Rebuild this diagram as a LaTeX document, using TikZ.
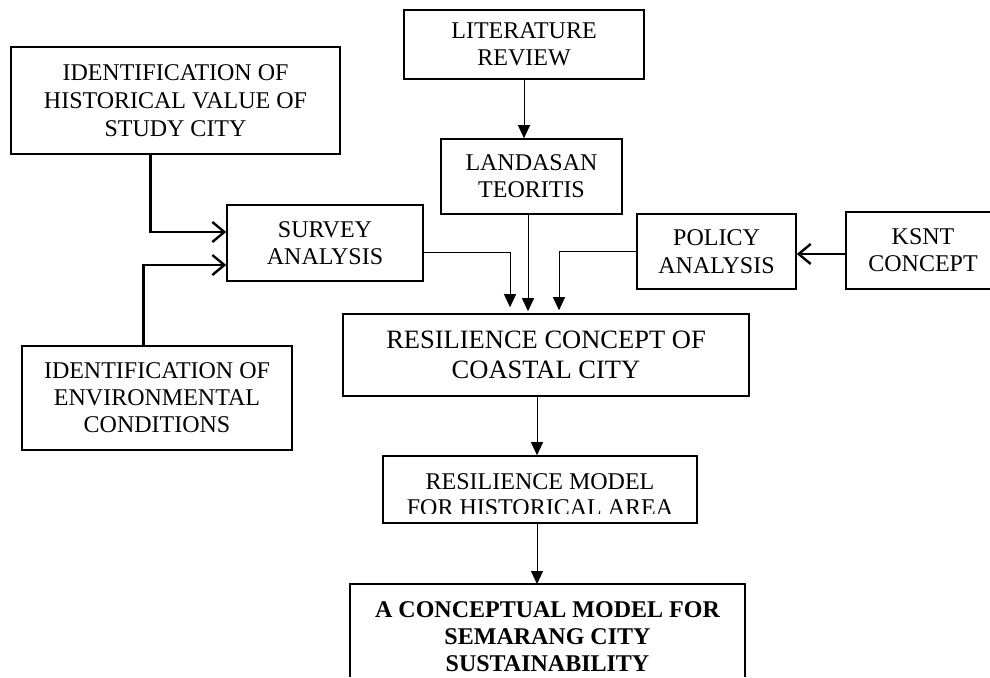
\documentclass[tikz,border=0pt]{standalone}
\usepackage{fontspec}
\setmainfont{Liberation Serif}
\usetikzlibrary{arrows.meta,calc}
\begin{document}
\begin{tikzpicture}[x=1pt,y=-1pt,
  box/.style={draw,line width=1.6pt,align=center,inner sep=0pt,font=\fontsize{24}{28}\selectfont},
  thin/.style={draw,line width=0.9pt,-{Triangle[length=13pt,width=12pt]}},
  thickarr/.style={draw,line width=2.6pt,-{Straight Barb[length=12pt,width=20pt,line width=2.4pt]}}]
\useasboundingbox[fill=white] (0,0) rectangle (990,677);
% nodes
\node[box,minimum width=329pt,minimum height=107pt] (hist) at (175.5,100.5) {IDENTIFICATION OF\\HISTORICAL VALUE OF\\STUDY CITY};
\node[box,minimum width=270pt,minimum height=104pt,font=\fontsize{24}{27}\selectfont] (env) at (157,398) {IDENTIFICATION OF\\ENVIRONMENTAL\\CONDITIONS};
\node[box,minimum width=196pt,minimum height=76pt,font=\fontsize{24}{27}\selectfont] (survey) at (325,243) {SURVEY\\ANALYSIS};
\node[box,minimum width=240pt,minimum height=69pt,font=\fontsize{24}{27}\selectfont] (lit) at (524,44.5) {LITERATURE\\REVIEW};
\node[box,minimum width=181pt,minimum height=75pt,font=\fontsize{24}{27}\selectfont] (land) at (531.5,176.5) {LANDASAN\\TEORITIS};
\node[box,minimum width=159pt,minimum height=75pt,font=\fontsize{24}{28}\selectfont] (policy) at (716.5,251.5) {POLICY\\ANALYSIS};
\node[box,minimum width=154pt,minimum height=77pt,font=\fontsize{24}{27}\selectfont] (ksnt) at (923,250.5) {KSNT\\CONCEPT};
\node[box,minimum width=406pt,minimum height=82pt,font=\fontsize{26.5}{30}\selectfont] (rcc) at (546,355) {RESILIENCE CONCEPT OF\\COASTAL CITY};
\node[box,minimum width=314pt,minimum height=67pt] (rm) at (540,489.5) {};
\begin{scope}
  \clip (rm.north west) rectangle ([yshift=10pt]rm.south east);
  \node[align=center,inner sep=0pt,font=\fontsize{24}{26}\selectfont] (rmtext) at ([yshift=-5.5pt]rm.center) {RESILIENCE MODEL\\FOR HISTORICAL AREA};
\end{scope}
\node[align=center,inner sep=0pt,minimum width=395pt,font=\bfseries\fontsize{24}{27}\selectfont] (final) at (547.5,637) {A CONCEPTUAL MODEL FOR\\SEMARANG CITY\\SUSTAINABILITY};
\coordinate (ftop) at (547.5,584);
\coordinate (fbot) at (547.5,677);
\draw[line width=1.6pt] (final.west |- fbot) -- (final.west |- ftop) -- (final.east |- ftop) -- (final.east |- fbot);
% coordinates
\coordinate (c1) at ([xshift=-36pt]rcc.north);
\coordinate (c2) at ([xshift=-18pt]rcc.north);
\coordinate (c3) at ([xshift=13pt]rcc.north);
\coordinate (c4) at ([xshift=-3pt]rm.north);
\coordinate (h1) at ([xshift=140pt]hist.south west);
\coordinate (s1) at ([yshift=11pt]survey.west);
\coordinate (e1) at ([xshift=122pt]env.north west);
\coordinate (s2) at ([yshift=-22pt]survey.west);
\coordinate (s3) at ([yshift=-9pt]survey.east);
\coordinate (k1) at (0,254);
% connectors
\draw[thickarr] (h1) |- (s1);
\draw[thickarr] (e1) |- (s2);
\draw[thin] (lit.south) -- (lit.south |- land.north);
\draw[thin,shorten >=6pt] (s3) -| (c1);
\draw[thin,shorten >=2pt] (c2 |- land.south) -- (c2);
\draw[thin,shorten >=3pt] (policy.west) -| (c3);
\draw[thickarr] (ksnt.west |- k1) -- (policy.east |- k1);
\draw[thin] (c4 |- rcc.south) -- (c4);
\draw[thin] (c4 |- rm.south) -- (c4 |- ftop);
\end{tikzpicture}
\end{document}
